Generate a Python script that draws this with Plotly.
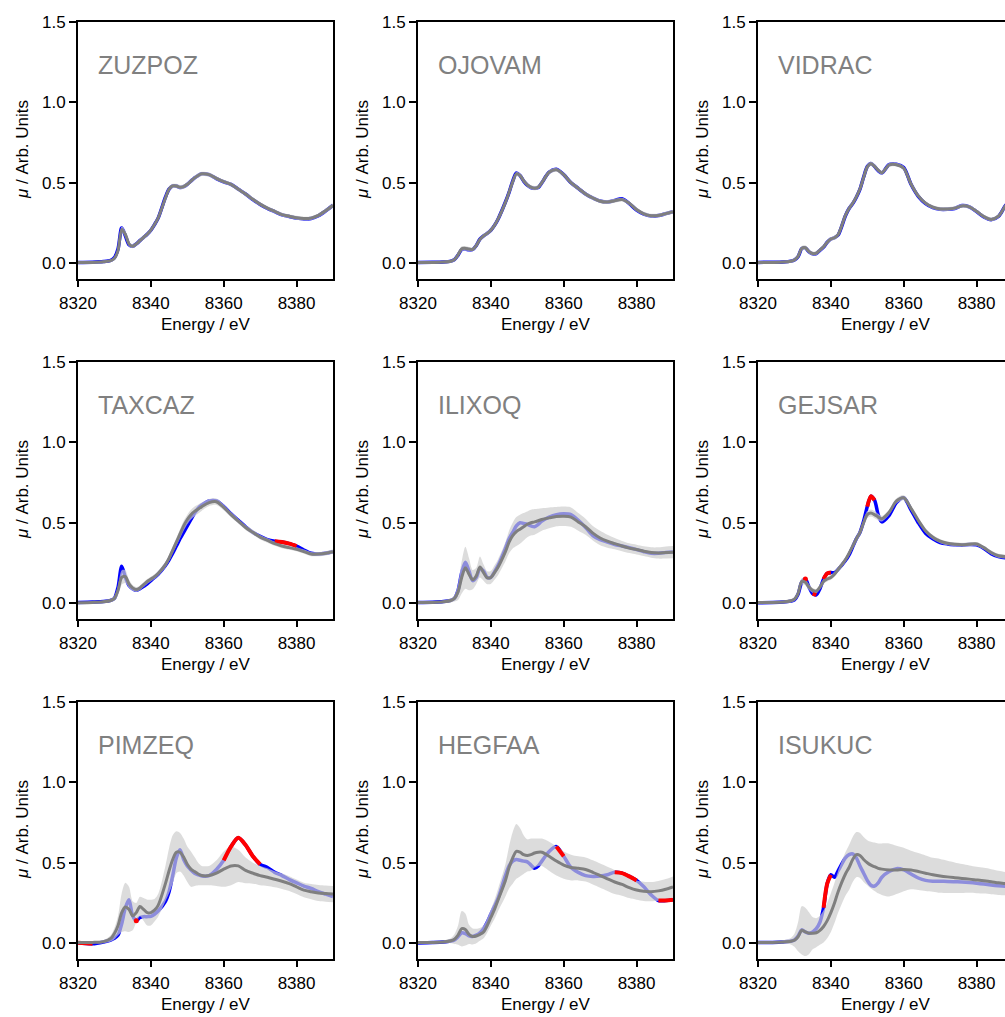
import plotly.graph_objects as go

ENERGY = [8320, 8324, 8327, 8329, 8330, 8331, 8332, 8333, 8334, 8335,
          8336, 8337, 8338, 8339, 8340, 8341, 8342, 8344, 8345, 8346,
          8347, 8348, 8349, 8350, 8351, 8352, 8353, 8354, 8356, 8358,
          8360, 8362, 8364, 8366, 8368, 8370, 8372, 8374, 8376, 8378,
          8380, 8382, 8384, 8386, 8388, 8390]

X_TICKS = [8320, 8340, 8360, 8380]
Y_TICKS = [0.0, 0.5, 1.0, 1.5]
Y_TICK_LABELS = ["0.0", "0.5", "1.0", "1.5"]

ZUZPOZ_TRUE = [.005, .006, .010, .018, .035, .090, .220, .170, .115, .105,
               .120, .140, .160, .180, .205, .240, .280, .410, .460, .480,
               .480, .470, .475, .490, .510, .530, .545, .555, .550, .525,
               .505, .490, .460, .430, .395, .365, .340, .320, .300, .290,
               .280, .275, .278, .295, .325, .360]
ZUZPOZ_PRED = [.004, .005, .009, .016, .030, .080, .210, .180, .120, .105,
               .120, .140, .160, .180, .205, .240, .280, .405, .460, .480,
               .480, .472, .476, .490, .510, .530, .545, .555, .550, .527,
               .507, .490, .460, .430, .397, .367, .342, .322, .302, .292,
               .282, .277, .280, .297, .326, .360]
ZUZPOZ_SPREAD = [.008, .008, .008, .009, .010, .015, .020, .020, .015, .012,
                 .012, .012, .012, .012, .012, .012, .012, .012, .013, .013,
                 .013, .013, .013, .013, .013, .013, .013, .013, .013, .012,
                 .012, .012, .012, .012, .012, .012, .012, .012, .012, .012,
                 .012, .012, .012, .012, .012, .012]
ZUZPOZ_RED = []

OJOVAM_TRUE = [.005, .006, .008, .013, .022, .050, .085, .088, .083, .085,
               .110, .150, .170, .185, .205, .235, .275, .380, .440, .510,
               .560, .545, .510, .485, .470, .465, .470, .500, .565, .583,
               .550, .500, .465, .430, .405, .386, .380, .390, .400, .370,
               .330, .305, .293, .296, .308, .320]
OJOVAM_PRED = [.004, .005, .007, .012, .022, .052, .090, .092, .088, .086,
               .110, .148, .170, .185, .205, .235, .275, .378, .440, .505,
               .555, .545, .512, .487, .472, .466, .472, .500, .565, .580,
               .550, .500, .465, .430, .405, .385, .380, .388, .395, .372,
               .333, .307, .295, .297, .308, .320]
OJOVAM_SPREAD = [.008, .008, .008, .009, .010, .013, .015, .015, .013, .012,
                 .012, .012, .012, .012, .012, .012, .012, .012, .013, .013,
                 .013, .013, .013, .013, .013, .013, .013, .013, .013, .012,
                 .012, .012, .012, .012, .012, .012, .012, .012, .012, .012,
                 .012, .012, .012, .012, .012, .012]
OJOVAM_RED = []

VIDRAC_TRUE = [.005, .006, .008, .013, .020, .040, .090, .095, .070, .058,
               .060, .080, .100, .130, .150, .158, .175, .295, .340, .370,
               .410, .460, .535, .600, .620, .600, .575, .560, .612, .615,
               .595, .490, .415, .370, .345, .335, .335, .340, .358, .350,
               .320, .287, .270, .290, .360, .400]
VIDRAC_PRED = [.004, .005, .007, .012, .020, .042, .092, .096, .072, .060,
               .062, .082, .102, .130, .150, .158, .177, .297, .340, .372,
               .412, .462, .533, .598, .618, .602, .578, .562, .610, .612,
               .590, .492, .418, .373, .348, .337, .337, .342, .356, .350,
               .322, .290, .272, .292, .358, .400]
VIDRAC_SPREAD = [.008, .008, .008, .009, .010, .013, .015, .015, .013, .012,
                 .012, .012, .012, .012, .012, .012, .012, .012, .013, .013,
                 .013, .013, .013, .013, .013, .013, .013, .013, .013, .012,
                 .012, .012, .012, .012, .012, .012, .012, .012, .012, .012,
                 .012, .012, .012, .012, .012, .012]
VIDRAC_RED = []

TAXCAZ_TRUE = [.005, .007, .010, .018, .030, .100, .230, .160, .110, .090,
               .080, .090, .105, .120, .140, .160, .180, .235, .270, .310,
               .355, .400, .440, .480, .520, .560, .590, .610, .635, .635,
               .600, .555, .515, .475, .440, .415, .395, .385, .380, .370,
               .355, .330, .310, .305, .310, .320]
TAXCAZ_PRED = [.003, .005, .009, .017, .030, .080, .160, .165, .120, .095,
               .085, .095, .115, .135, .150, .165, .185, .240, .280, .330,
               .380, .430, .480, .520, .550, .570, .585, .600, .625, .630,
               .595, .550, .510, .470, .440, .410, .390, .370, .355, .345,
               .335, .320, .305, .305, .310, .320]
TAXCAZ_SPREAD = [.005, .006, .008, .010, .015, .030, .045, .040, .025, .018,
                 .015, .015, .015, .015, .015, .015, .016, .018, .020, .022,
                 .025, .028, .030, .030, .030, .030, .028, .025, .022, .020,
                 .018, .016, .015, .015, .015, .014, .014, .013, .013, .013,
                 .013, .013, .013, .013, .013, .013]
TAXCAZ_RED = [(8374, 8380)]

ILIXOQ_TRUE = [.005, .006, .010, .018, .030, .080, .190, .255, .200, .140,
               .160, .215, .200, .160, .160, .195, .235, .340, .400, .440,
               .480, .500, .495, .490, .480, .475, .490, .510, .535, .550,
               .555, .550, .515, .470, .420, .395, .380, .365, .355, .345,
               .333, .320, .310, .310, .315, .318]
ILIXOQ_PRED = [.004, .005, .009, .017, .030, .070, .160, .220, .180, .146,
               .170, .225, .190, .158, .160, .190, .225, .320, .380, .420,
               .445, .460, .475, .490, .500, .505, .512, .520, .530, .538,
               .540, .535, .505, .475, .435, .405, .385, .370, .355, .342,
               .333, .323, .315, .312, .315, .317]
ILIXOQ_SPREAD = [.005, .005, .008, .012, .020, .050, .100, .130, .100, .060,
                 .050, .065, .050, .040, .040, .045, .050, .060, .070, .080,
                 .090, .090, .085, .080, .080, .080, .075, .070, .065, .060,
                 .060, .060, .055, .050, .045, .045, .040, .035, .032, .030,
                 .030, .030, .032, .035, .037, .038]
ILIXOQ_RED = []

GEJSAR_TRUE = [.003, .004, .007, .013, .020, .055, .130, .150, .100, .060,
               .052, .090, .150, .185, .190, .190, .210, .265, .300, .350,
               .400, .440, .510, .600, .665, .640, .550, .505, .545, .625,
               .655, .580, .500, .435, .400, .377, .368, .363, .360, .365,
               .362, .340, .308, .290, .282, .280]
GEJSAR_PRED = [.004, .005, .008, .015, .025, .060, .135, .130, .100, .080,
               .075, .100, .135, .150, .160, .180, .210, .270, .310, .355,
               .400, .440, .500, .550, .560, .550, .535, .525, .565, .635,
               .655, .590, .515, .450, .410, .385, .372, .366, .363, .366,
               .368, .345, .315, .295, .290, .288]
GEJSAR_SPREAD = [.005, .006, .008, .010, .012, .015, .020, .020, .018, .015,
                 .014, .014, .015, .015, .015, .015, .015, .015, .016, .017,
                 .018, .020, .022, .022, .022, .022, .020, .018, .016, .016,
                 .016, .015, .014, .013, .013, .012, .012, .012, .012, .012,
                 .012, .012, .012, .012, .012, .012]
GEJSAR_RED = [(8333, 8333), (8335, 8336), (8338, 8340), (8350, 8352), (8388, 8390)]

PIMZEQ_TRUE = [.003, -.003, .008, .020, .030, .050, .120, .220, .270, .170,
               .140, .160, .165, .165, .167, .180, .200, .260, .320, .420,
               .530, .580, .520, .480, .455, .435, .425, .418, .420, .458,
               .515, .600, .655, .610, .540, .490, .470, .440, .420, .395,
               .375, .355, .340, .320, .305, .290]
PIMZEQ_PRED = [.004, .005, .010, .030, .060, .110, .190, .225, .210, .170,
               .190, .228, .210, .190, .190, .205, .235, .370, .450, .520,
               .565, .565, .535, .490, .460, .445, .430, .420, .420, .435,
               .460, .480, .480, .452, .435, .420, .410, .397, .385, .370,
               .350, .330, .320, .312, .308, .305]
PIMZEQ_SPREAD = [.005, .006, .010, .020, .035, .060, .120, .150, .140, .090,
                 .060, .060, .070, .080, .080, .070, .070, .110, .140, .150,
                 .130, .120, .115, .110, .110, .090, .070, .060, .060, .080,
                 .110, .120, .100, .080, .065, .060, .055, .050, .048, .046,
                 .045, .045, .047, .050, .050, .050]
PIMZEQ_RED = [(8320, 8324), (8336, 8336), (8360, 8370)]

HEGFAA_TRUE = [.002, .004, .007, .013, .020, .040, .065, .060, .045, .042,
               .050, .065, .090, .130, .180, .230, .280, .420, .480, .510,
               .520, .515, .510, .505, .485, .465, .480, .510, .570, .600,
               .540, .470, .440, .420, .415, .417, .425, .440, .435, .415,
               .390, .350, .300, .265, .265, .270]
HEGFAA_PRED = [.004, .005, .008, .015, .025, .050, .090, .085, .055, .042,
               .045, .055, .070, .110, .160, .210, .270, .390, .470, .530,
               .570, .565, .550, .545, .550, .560, .565, .565, .540, .510,
               .485, .470, .465, .458, .440, .420, .400, .380, .365, .345,
               .330, .322, .320, .325, .335, .350]
HEGFAA_SPREAD = [.004, .005, .008, .015, .030, .060, .110, .100, .060, .050,
                 .045, .040, .040, .045, .050, .060, .070, .100, .130, .160,
                 .170, .150, .120, .100, .100, .090, .085, .085, .090, .090,
                 .085, .080, .075, .075, .075, .075, .075, .075, .070, .065,
                 .060, .060, .060, .062, .064, .065]
HEGFAA_RED = [(8357, 8360), (8374, 8380), (8386, 8390)]

ISUKUC_TRUE = [.004, .005, .008, .012, .020, .045, .083, .070, .062, .070,
               .090, .130, .220, .370, .425, .410, .450, .530, .550, .555,
               .530, .480, .435, .390, .360, .355, .375, .410, .445, .463,
               .455, .430, .405, .390, .385, .385, .384, .382, .380, .377,
               .373, .368, .362, .357, .353, .350]
ISUKUC_PRED = [.004, .005, .008, .012, .018, .040, .080, .070, .062, .062,
               .065, .080, .104, .140, .190, .250, .320, .430, .470, .520,
               .550, .545, .520, .500, .485, .475, .465, .460, .455, .455,
               .458, .455, .445, .435, .425, .418, .412, .407, .402, .398,
               .393, .388, .382, .375, .370, .365]
ISUKUC_SPREAD = [.004, .005, .010, .020, .040, .090, .150, .150, .130, .100,
                 .090, .090, .100, .110, .120, .125, .130, .135, .140, .140,
                 .140, .140, .140, .140, .145, .150, .155, .160, .165, .150,
                 .135, .120, .115, .110, .105, .105, .100, .095, .090, .085,
                 .082, .080, .078, .075, .072, .070]
ISUKUC_RED = [(8338, 8340)]

PANELS = [
    ("ZUZPOZ", ZUZPOZ_TRUE, ZUZPOZ_PRED, ZUZPOZ_SPREAD, ZUZPOZ_RED),
    ("OJOVAM", OJOVAM_TRUE, OJOVAM_PRED, OJOVAM_SPREAD, OJOVAM_RED),
    ("VIDRAC", VIDRAC_TRUE, VIDRAC_PRED, VIDRAC_SPREAD, VIDRAC_RED),
    ("TAXCAZ", TAXCAZ_TRUE, TAXCAZ_PRED, TAXCAZ_SPREAD, TAXCAZ_RED),
    ("ILIXOQ", ILIXOQ_TRUE, ILIXOQ_PRED, ILIXOQ_SPREAD, ILIXOQ_RED),
    ("GEJSAR", GEJSAR_TRUE, GEJSAR_PRED, GEJSAR_SPREAD, GEJSAR_RED),
    ("PIMZEQ", PIMZEQ_TRUE, PIMZEQ_PRED, PIMZEQ_SPREAD, PIMZEQ_RED),
    ("HEGFAA", HEGFAA_TRUE, HEGFAA_PRED, HEGFAA_SPREAD, HEGFAA_RED),
    ("ISUKUC", ISUKUC_TRUE, ISUKUC_PRED, ISUKUC_SPREAD, ISUKUC_RED),
]

W, H = 1005, 1017
FONT = "Liberation Sans, Arial, Helvetica, sans-serif"
SPL = dict(shape="spline", smoothing=0.8)
TICK_SIZE = 17
LABEL_SIZE = 17

fig = go.Figure()
layout_axes = {}
annotations = []

for i, (name, tr, pr, sp, red) in enumerate(PANELS):
    r, c = divmod(i, 3)
    left = 78 + 340 * c
    right = left + 255
    top = 21.7 + 340 * r
    bottom = 278.5 + 340 * r
    vis_right = min(right, W)
    xr1 = 8320 + 70 * (vis_right - left) / 255
    suffix = "" if i == 0 else str(i + 1)
    xa, ya = "x" + suffix, "y" + suffix

    lower = [p - s for p, s in zip(pr, sp)]
    upper = [p + s for p, s in zip(pr, sp)]
    common = dict(xaxis=xa, yaxis=ya, showlegend=False, hoverinfo="skip")

    fig.add_trace(go.Scatter(x=ENERGY, y=tr, mode="lines",
                             line=dict(color="rgb(0,0,255)", width=3.5, **SPL), **common))
    fig.add_trace(go.Scatter(x=ENERGY, y=lower, mode="lines",
                             line=dict(color="rgba(0,0,0,0)", width=0, **SPL), **common))
    fig.add_trace(go.Scatter(x=ENERGY, y=upper, mode="lines", fill="tonexty",
                             fillcolor="rgba(204,204,204,0.69)",
                             line=dict(color="rgba(0,0,0,0)", width=0, **SPL), **common))
    for a, b in red:
        xs = [e for e in ENERGY if a <= e <= b]
        ys = [t for e, t in zip(ENERGY, tr) if a <= e <= b]
        if len(xs) > 1:
            fig.add_trace(go.Scatter(x=xs, y=ys, mode="lines",
                                     line=dict(color="rgb(255,0,0)", width=4, **SPL), **common))
        else:
            fig.add_trace(go.Scatter(x=xs, y=ys, mode="markers",
                                     marker=dict(color="rgb(255,0,0)", size=5), **common))
    fig.add_trace(go.Scatter(x=ENERGY, y=pr, mode="lines",
                             line=dict(color="#7f7f7f", width=3, **SPL), **common))

    axis_common = dict(showgrid=False, zeroline=False, showline=True, linecolor="black",
                       linewidth=1.8, ticks="outside", ticklen=7, tickwidth=1.5,
                       tickcolor="black", automargin=False,
                       tickfont=dict(family=FONT, size=TICK_SIZE, color="black"))
    layout_axes["xaxis" + suffix] = dict(
        domain=[left / W, vis_right / W], range=[8320, xr1], anchor=ya,
        tickvals=X_TICKS, ticktext=[str(v) for v in X_TICKS], mirror=True,
        ticklabelstandoff=1, **axis_common)
    layout_axes["yaxis" + suffix] = dict(
        domain=[1 - bottom / H, 1 - top / H], range=[-0.095, 1.5], anchor=xa,
        tickvals=Y_TICKS, ticktext=Y_TICK_LABELS, mirror=(c < 2),
        **axis_common)
    annotations.append(dict(x=8325, y=1.23, xref=xa, yref=ya, text=name, showarrow=False,
                            xanchor="left", yanchor="middle",
                            font=dict(family=FONT, size=25, color="#808080")))
    annotations.append(dict(x=(left + 127.5) / W, y=1 - (bottom + 46) / H,
                            xref="paper", yref="paper", text="Energy / eV",
                            showarrow=False, xanchor="center", yanchor="middle",
                            font=dict(family=FONT, size=LABEL_SIZE, color="black")))
    annotations.append(dict(x=(22 + 340 * c) / W, y=1 - ((top + bottom) / 2) / H,
                            xref="paper", yref="paper", text="<i>μ</i> / Arb. Units",
                            textangle=-90, showarrow=False, xanchor="center",
                            yanchor="middle",
                            font=dict(family=FONT, size=LABEL_SIZE, color="black")))

fig.update_layout(width=W, height=H, margin=dict(l=0, r=0, t=0, b=0),
                  paper_bgcolor="white", plot_bgcolor="white",
                  annotations=annotations, **layout_axes)

fig.write_html("out.html")
